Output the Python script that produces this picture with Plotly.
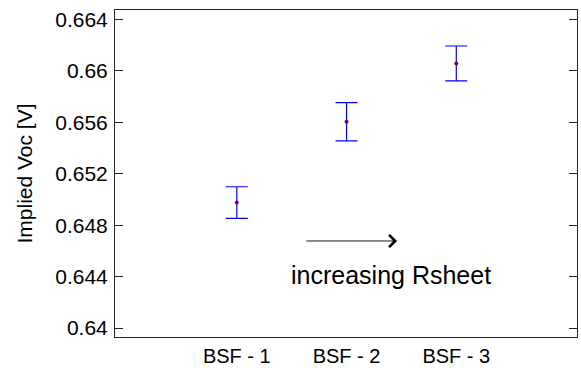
import plotly.graph_objects as go

categories = ["BSF - 1", "BSF - 2", "BSF - 3"]
x_pos = [1, 2, 3]
voc_mean = [0.64976, 0.65605, 0.66058]
voc_err = [0.00123, 0.00149, 0.00136]
y_tickvals = [0.64, 0.644, 0.648, 0.652, 0.656, 0.66, 0.664]
y_ticktext = ["0.64", "0.644", "0.648", "0.652", "0.656", "0.66", "0.664"]

FONT = "Liberation Sans, Arial, sans-serif"
AX = "#262626"

fig = go.Figure()
fig.add_trace(go.Scatter(
    x=x_pos, y=voc_mean, mode="markers",
    marker=dict(color="#80003c", size=4),
    error_y=dict(type="data", array=voc_err, visible=True,
                 color="#0000ff", thickness=1.2, width=11),
    showlegend=False,
))

# arrow
fig.add_annotation(x=2.46, y=0.64677, ax=1.62, ay=0.64677,
                   xref="x", yref="y", axref="x", ayref="y",
                   showarrow=True, arrowhead=4, arrowsize=2.6, arrowwidth=0.9,
                   arrowcolor="black", text="")
fig.add_annotation(x=2.405, y=0.64412, xref="x", yref="y", showarrow=False,
                   text="increasing Rsheet", font=dict(family=FONT, size=25, color="black"))

fig.update_layout(
    width=581, height=368,
    margin=dict(l=115, r=4, t=10, b=31),
    paper_bgcolor="white", plot_bgcolor="white",
    font=dict(family=FONT, size=20, color="black"),
)
fig.update_xaxes(range=[-0.11, 4.1], tickvals=x_pos, ticktext=categories,
                 showgrid=False, zeroline=False, showline=True, linecolor=AX,
                 linewidth=1, mirror=True, ticks="", tickfont=dict(size=20),
                 ticklabelstandoff=1, automargin=False)
fig.update_yaxes(range=[0.6393, 0.66474], tickvals=y_tickvals, ticktext=y_ticktext,
                 showgrid=False, zeroline=False, showline=True, linecolor=AX,
                 linewidth=1, mirror="ticks", ticks="inside", ticklen=8,
                 tickcolor=AX, tickfont=dict(size=21), ticklabelstandoff=2,
                 automargin=False,
                 title=dict(text="Implied Voc [V]", font=dict(size=21), standoff=16))

fig.write_html("out.html")
